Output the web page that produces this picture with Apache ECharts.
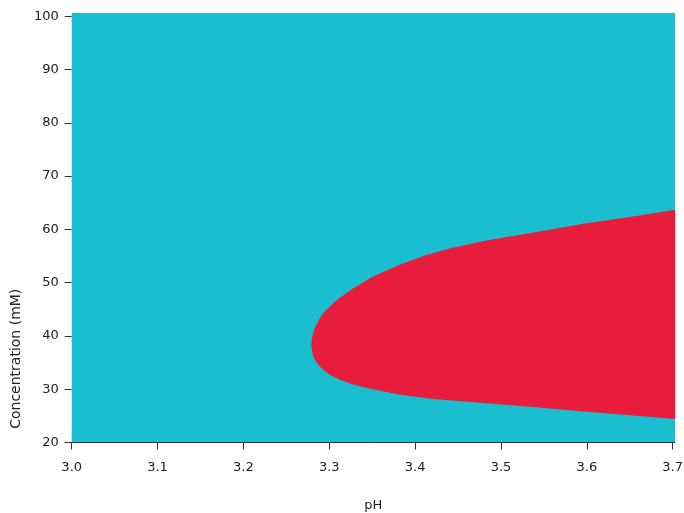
<!DOCTYPE html>
<html>
<head>
<meta charset="utf-8">
<script src="https://cdn.jsdelivr.net/npm/echarts@6/dist/echarts.min.js"></script>
<style>html,body{margin:0;padding:0;background:#fff;}#chart{width:684px;height:513px;}</style>
</head>
<body>
<div id="chart"></div>
<script>
// Upper boundary of red region (from right edge to tip)
var upperPH   = [3.703, 3.654, 3.596, 3.538, 3.483, 3.441, 3.414, 3.382, 3.351, 3.328, 3.309, 3.293, 3.2874, 3.2840, 3.2816, 3.2799, 3.2791];
var upperConc = [63.66, 62.40, 61.03, 59.40, 57.90, 56.47, 55.22, 53.34, 51.14, 48.97, 46.77, 44.28, 42.83, 41.76, 40.77, 39.64, 38.33];
// Lower boundary of red region (from tip to right edge)
var lowerPH   = [3.2799, 3.2814, 3.2840, 3.2872, 3.293, 3.3015, 3.3125, 3.3270, 3.3436, 3.3824, 3.4212, 3.4794, 3.5376, 3.5958, 3.6541, 3.703];
var lowerConc = [37.20, 36.14, 35.33, 34.58, 33.64, 32.60, 31.77, 30.95, 30.21, 28.95, 28.14, 27.39, 26.64, 25.82, 25.07, 24.39];
var xTicks = [3.0, 3.1, 3.2, 3.3, 3.4, 3.5, 3.6, 3.7];
var yTicks = [20, 30, 40, 50, 60, 70, 80, 90, 100];

var polygon = [];
for (var i = 0; i < upperPH.length; i++) polygon.push([upperPH[i], upperConc[i]]);
for (var j = 0; j < lowerPH.length; j++) polygon.push([lowerPH[j], lowerConc[j]]);

var FONT = 'DejaVu Sans';
var chart = echarts.init(document.getElementById('chart'), null, {renderer: 'canvas'});
chart.setOption({
  animation: false,
  backgroundColor: '#ffffff',
  grid: {
    left: 71.7, right: 9, top: 13, bottom: 70.5,
    outerBoundsMode: 'none', containLabel: false,
    show: true, backgroundColor: '#1ABECE', borderWidth: 0
  },
  xAxis: {
    type: 'value', min: 3.0, max: 3.7027,
    name: 'pH', nameLocation: 'middle', nameGap: 57,
    nameTextStyle: {fontFamily: FONT, fontSize: 13, color: '#222'},
    splitLine: {show: false},
    axisLine: {show: true, onZero: false, lineStyle: {color: '#333', width: 1}},
    axisTick: {show: true, length: 7, lineStyle: {color: '#333'}, customValues: xTicks},
    axisLabel: {fontFamily: FONT, fontSize: 13, color: '#222', margin: 19, customValues: xTicks,
      formatter: function (v) { return v.toFixed(1); }}
  },
  yAxis: {
    type: 'value', min: 20, max: 100.6,
    name: 'Concentration (mM)', nameLocation: 'middle', nameGap: 43,
    nameTextStyle: {fontFamily: FONT, fontSize: 14, color: '#222', padding: [0, 262, 0, 0]},
    splitLine: {show: false},
    axisLine: {show: false},
    axisTick: {show: true, length: 7, lineStyle: {color: '#333'}, customValues: yTicks},
    axisLabel: {fontFamily: FONT, fontSize: 13, color: '#222', margin: 13, customValues: yTicks}
  },
  series: [{
    type: 'custom',
    clip: true,
    data: polygon,
    renderItem: function (params, api) {
      if (params.dataIndex !== 0) return null;
      var pts = polygon.map(function (p) { return api.coord(p); });
      return {
        type: 'polygon',
        shape: {points: pts},
        style: {fill: '#E81D3D', stroke: null}
      };
    }
  }]
});
</script>
</body>
</html>
